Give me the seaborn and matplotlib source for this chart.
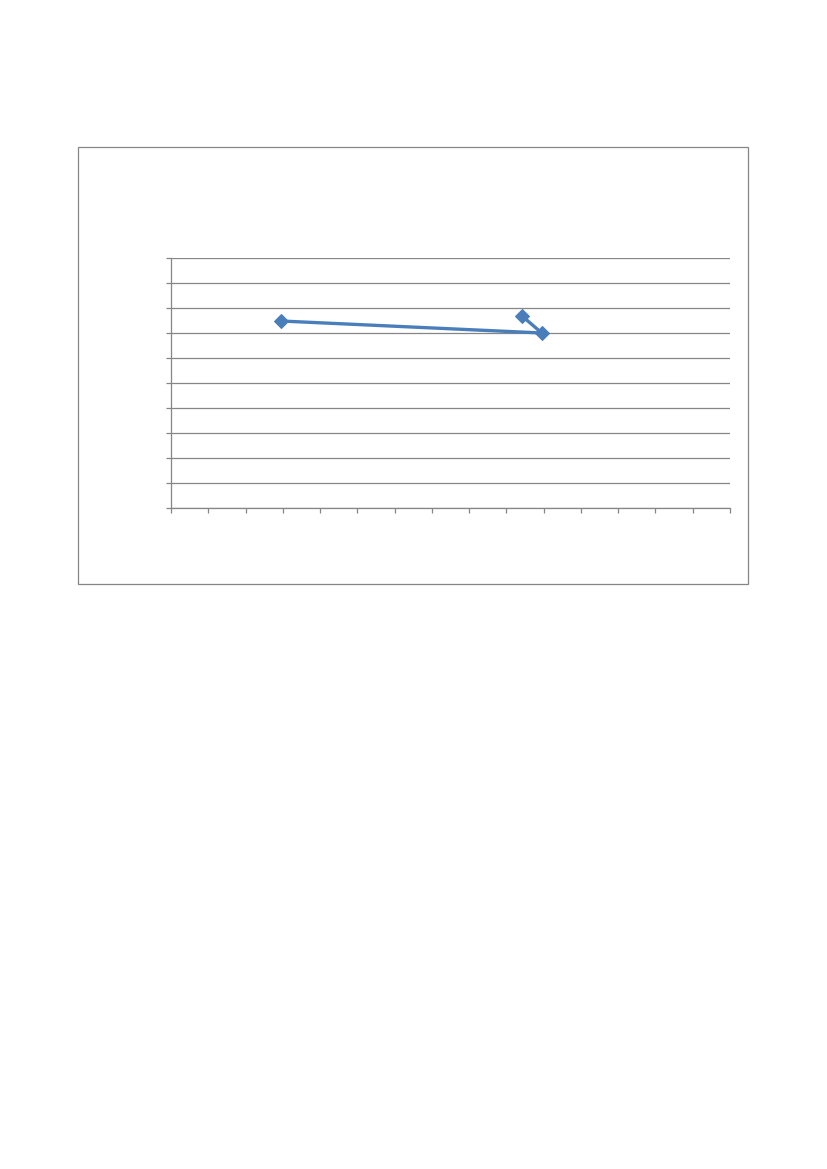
import matplotlib
matplotlib.use("Agg")
import matplotlib.pyplot as plt
from matplotlib.patches import Rectangle
import pandas as pd
import seaborn as sns

# data (axis 0..15 by 0..10, no labels shown)
x_vals = [2.95, 9.95, 9.42]
y_vals = [7.48, 7.0, 7.68]

W, H = 827, 1169
grey = "#868686"
blue = "#4A7EBB"

sns.set_style("white")
fig = plt.figure(figsize=(W / 100, H / 100), dpi=100)

# chart frame
fig.add_artist(Rectangle((78 / W, 1 - 584 / H), (748 - 78) / W, (584 - 147) / H,
                         transform=fig.transFigure, fill=False,
                         edgecolor=grey, linewidth=0.9))

ax = fig.add_axes([171 / W, 1 - 508 / H, (730 - 171) / W, (508 - 258) / H])

df = pd.DataFrame({"x": x_vals, "y": y_vals})
sns.lineplot(data=df, x="x", y="y", sort=False, ax=ax, color=blue,
             linewidth=2.4, marker="D", markersize=7,
             markeredgecolor=blue, estimator=None)

ax.set_xlim(0, 15)
ax.set_ylim(0, 10)
ax.set_xticks(range(0, 16))
ax.set_yticks(range(0, 11))
ax.set_xticklabels([])
ax.set_yticklabels([])
ax.set_xlabel("")
ax.set_ylabel("")
ax.grid(axis="y", color=grey, linewidth=0.9)
ax.set_axisbelow(True)
for side in ["top", "right"]:
    ax.spines[side].set_visible(False)
for side in ["left", "bottom"]:
    ax.spines[side].set_color(grey)
    ax.spines[side].set_linewidth(0.9)
ax.tick_params(axis="both", direction="out", length=3.5, width=0.9,
               color=grey, left=True, bottom=True)

fig.savefig("out.png", dpi=100)
